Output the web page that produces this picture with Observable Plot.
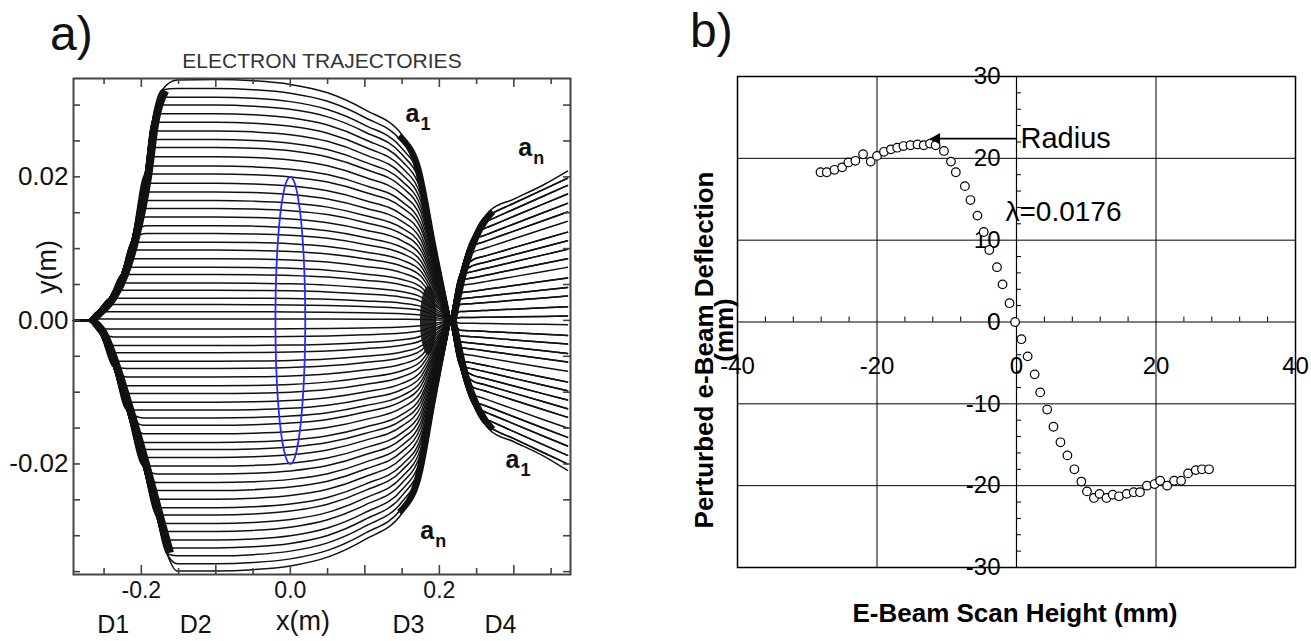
<!DOCTYPE html>
<html><head><meta charset="utf-8">
<script src="https://cdn.jsdelivr.net/npm/d3@7"></script>
<script src="https://cdn.jsdelivr.net/npm/@observablehq/plot@0.6"></script>
<style>
html,body{margin:0;padding:0;background:#fff;}
#wrap{position:relative;width:1311px;height:641px;overflow:hidden;background:#fff;font-family:"Liberation Sans",Arial,sans-serif;}
#wrap svg{position:absolute;top:0;}
</style></head><body><div id="wrap"></div>
<script>
// ================= Panel a: electron trajectories =================
// plateau height (m) of each trajectory a1..an, read at x ≈ -0.1 m
const plateauY = [0.03355,0.0323,0.0311,0.0300,0.0288,0.0276,0.0264,0.0252,0.0241,0.0228,0.0215,0.0204,0.0191,0.0179,0.0167,0.0156,0.0144,0.0132,0.0121,0.0109,0.0098,0.0086,0.0074,0.0064,0.0052,0.0042,0.0031,0.0022,0.0012,0.0002,
  -0.0012,-0.0023,-0.0035,-0.0045,-0.0057,-0.0067,-0.0079,-0.0091,-0.0102,-0.0114,-0.0125,-0.0136,-0.0146,-0.0158,-0.0170,-0.0180,-0.0191,-0.0203,-0.0214,-0.0226,-0.0237,-0.0249,-0.0261,-0.0271,-0.0283,-0.0294,-0.0306,-0.0317,-0.0328,-0.0339,-0.0349];
// end height (m) of each trajectory at the right edge (x ≈ 0.372 m)
const endY = [-0.0210,-0.0200,-0.0200,-0.0188,-0.0188,-0.0175,-0.0175,-0.0163,-0.0163,-0.0150,-0.0135,-0.0135,-0.0123,-0.0123,-0.0111,-0.0111,-0.0098,-0.0098,-0.0086,-0.0086,-0.0071,-0.0058,-0.0058,-0.0046,-0.0046,-0.0033,-0.0033,-0.0021,-0.0021,-0.0006,
  0.0006,0.0006,0.0019,0.0019,0.0034,0.0034,0.0046,0.0046,0.0059,0.0059,0.0074,0.0086,0.0086,0.0099,0.0099,0.0111,0.0111,0.0123,0.0123,0.0138,0.0151,0.0151,0.0163,0.0163,0.0176,0.0176,0.0188,0.0188,0.0198,0.0198,0.0208];
// outer edge of the deflection band in D1 (upper and lower half)
const envTopX = [-0.291,-0.272,-0.2595,-0.2416,-0.226,-0.2125,-0.1946,-0.1857,-0.172,-0.152];
const envTopY = [0,0,0.00116,0.00325,0.0065,0.0111,0.0204,0.0274,0.0321,0.0335];
const envBotX = [-0.291,-0.272,-0.255,-0.237,-0.219,-0.197,-0.179,-0.1655,-0.152];
const envBotY = [0,0,0.0018,0.0065,0.0125,0.0204,0.0274,0.0325,0.0351];
// drift + convergence profile (fraction of plateau height)
const midX = [-0.1,-0.05,0.0,0.05,0.1,0.15,0.175,0.195];
const midRatio = [1,0.995,0.98,0.945,0.875,0.77,0.63,0.31];
// after the crossover: outer band edge and straight-fan profile (fraction of end height)
const rightX = [0.215,0.228,0.2456,0.259,0.268,0.30,0.34,0.372];
const rightEnv = [0,0.0063,0.0117,0.0142,0.0153,0.0169,0.0189,0.0209];
const rightRatio = [0.615,0.647,0.69,0.723,0.745,0.824,0.922,1.0];
// dense caustic region before the crossover (centre x, half-width, half-height in m)
const caustic = {cx: 0.185, rx: 0.011, ry: 0.0048};
const circleRadius = 0.02;
const xMajorA = [-0.2,-0.1,0,0.1,0.2,0.3];
const xMinorA = [-0.25,-0.15,-0.05,0.05,0.15,0.25,0.35];
const xLabelA = [-0.2,0.0,0.2];
const yTickA = [-0.035,-0.03,-0.025,-0.02,-0.015,-0.01,-0.005,0,0.005,0.01,0.015,0.02,0.025,0.03];
const yLabelA = [-0.02,0.0,0.02];
const regionNames = ["D1","D2","D3","D4"];
const regionX = [-0.2376,-0.127,0.1584,0.282];
const trajLabels = [
  {x:0.1544, y:0.0276, sub:"1"},
  {x:0.1745, y:-0.0304, sub:"n"},
  {x:0.306, y:0.0229, sub:"n"},
  {x:0.2886, y:-0.0205, sub:"1"}
];

// ================= Panel b: deflection vs scan height =================
const scanX = [-28.1,-27.2,-26.1,-25.0,-24.1,-23.1,-22.0,-20.9,-20.0,-19.0,-18.0,-17.1,-16.2,-15.2,-14.2,-13.3,-12.4,-11.6,-10.4,-9.4,-8.7,-7.4,-6.6,-5.6,-4.7,-3.9,-2.8,-2.0,-1.0,-0.2,
  0.7,1.6,2.6,3.4,4.4,5.3,6.3,7.3,8.3,9.3,10.1,11.1,11.9,12.9,13.8,14.7,15.8,16.8,17.7,18.7,19.8,20.6,21.6,22.6,23.6,24.6,25.7,26.6,27.6];
const deflY = [18.3,18.3,18.6,18.9,19.5,19.7,20.5,19.6,20.3,20.8,21.1,21.3,21.5,21.6,21.7,21.6,21.8,21.6,20.9,19.6,18.3,16.6,14.9,13.0,11.0,8.8,6.7,4.6,2.3,0.0,
  -2.1,-4.2,-6.4,-8.6,-10.7,-12.8,-14.7,-16.3,-18.0,-19.5,-20.7,-21.5,-21.0,-21.5,-21.1,-21.3,-21.0,-20.8,-20.8,-20.0,-19.8,-19.4,-20.0,-19.4,-19.4,-18.5,-18.1,-18.0,-18.0];
const xGridB = [-20,20];
const yGridB = [-20,-10,10,20];
const xLabelB = [-40,-20,0,20,40];
const yLabelB = [-30,-20,-10,0,10,20,30];
const xMinorB = [-36,-32,-28,-24,-16,-12,-8,-4,4,8,12,16,24,28,32,36];
const yMinorB = [-28,-26,-24,-22,-18,-16,-14,-12,-8,-6,-4,-2,2,4,6,8,12,14,16,18,22,24,26,28];
const radiusArrow = {x1:0, x2:-12.3, y:22.4};
const lambdaNote = {x:0, y:13.4, text:"λ=0.0176"};

const FONT = "Liberation Sans, Arial, sans-serif";
const hy = s => s.replace("\u2212", "-");
const wrap = document.getElementById("wrap");

// ---------- build panel a ----------
const rows = [];
plateauY.forEach((h, i) => {
  const s = h >= 0 ? 1 : -1, a = Math.abs(h);
  const ex = h >= 0 ? envTopX : envBotX, ey = h >= 0 ? envTopY : envBotY;
  ex.forEach((x, k) => rows.push({id: i, x, y: s * Math.min(ey[k], a)}));
  midX.forEach((x, k) => rows.push({id: i, x, y: h * midRatio[k]}));
  const e = endY[i], se = e >= 0 ? 1 : -1, ae = Math.abs(e);
  rightX.forEach((x, k) => rows.push({id: i, x, y: se * Math.min(rightEnv[k], ae * rightRatio[k])}));
});
// dense bands along the outer edges (where the trajectories crowd together)
const hTop = plateauY[0], hBot = plateauY[plateauY.length - 1];
const bandD1Top = envTopX.slice(1, 9).map((x, k) => ({x, y: envTopY[k + 1]}));
const bandD1Bot = envBotX.slice(1, 8).map((x, k) => ({x, y: -envBotY[k + 1]}));
const bandD3Top = midX.slice(5).map((x, k) => ({x, y: hTop * midRatio[k + 5]})).concat([{x: rightX[0], y: 0}]);
const bandD3Bot = midX.slice(5).map((x, k) => ({x, y: hBot * midRatio[k + 5]})).concat([{x: rightX[0], y: 0}]);
const bandD4Top = rightX.slice(0, 5).map((x, k) => ({x, y: rightEnv[k]}));
const bandD4Bot = rightX.slice(0, 5).map((x, k) => ({x, y: -rightEnv[k]}));
const ellipse = d3.range(0, 361, 6).map(t => ({x: caustic.cx + caustic.rx * Math.cos(t * Math.PI / 180), y: caustic.ry * Math.sin(t * Math.PI / 180)}));
const circle = d3.range(0, 361, 3).map(t => ({x: circleRadius * Math.cos(t * Math.PI / 180), y: circleRadius * Math.sin(t * Math.PI / 180)}));

const WA = 600, HA = 641, mlA = 73, mrA = 30, mtA = 78, mbA = 67;
const iwA = WA - mlA - mrA, ihA = HA - mtA - mbA;
const axA = "#444", ink = "#111";
const band = (data, w, dx, dy) => Plot.line(data, {x: "x", y: "y", stroke: ink, strokeWidth: w, dx, dy, curve: "monotone-x", strokeLinecap: "butt"});
const plotA = Plot.plot({
  width: WA, height: HA, marginLeft: mlA, marginRight: mrA, marginTop: mtA, marginBottom: mbA,
  style: {background: "transparent", overflow: "visible"},
  x: {domain: [-0.291, 0.376], axis: null},
  y: {domain: [-0.0354, 0.0337], axis: null},
  marks: [
    Plot.line(rows, {x: "x", y: "y", z: "id", stroke: ink, strokeWidth: 1.5, curve: "monotone-x"}),
    band(bandD1Top, 7, 3.5, 1),
    band(bandD1Bot, 7, 3.5, -1),
    band(bandD3Top, 6, -3, 1),
    band(bandD3Bot, 6, -3, -1),
    band(bandD4Top, 6, 3, 1),
    band(bandD4Bot, 6, 3, -1),
    Plot.line(ellipse, {x: "x", y: "y", fill: ink, fillOpacity: 0.9, stroke: "none"}),
    Plot.line(circle, {x: "x", y: "y", stroke: "#2a2aff", strokeWidth: 1.8}),
    Plot.frame({stroke: axA, strokeWidth: 2}),
    Plot.ruleX(xMajorA, {x: d => d, insetTop: ihA - 9, stroke: axA, strokeWidth: 1.6}),
    Plot.ruleX(xMajorA, {x: d => d, insetBottom: ihA - 9, stroke: axA, strokeWidth: 1.6}),
    Plot.ruleX(xMinorA, {x: d => d, insetTop: ihA - 6, stroke: axA, strokeWidth: 1.6}),
    Plot.ruleX(xMinorA, {x: d => d, insetBottom: ihA - 6, stroke: axA, strokeWidth: 1.6}),
    Plot.ruleY(yTickA, {y: d => d, insetRight: iwA - 7, stroke: axA, strokeWidth: 1.6}),
    Plot.ruleY(yTickA, {y: d => d, insetLeft: iwA - 7, stroke: axA, strokeWidth: 1.6}),
    Plot.text(xLabelA, {x: d => d, frameAnchor: "bottom", lineAnchor: "bottom", dy: 23, text: d => hy(d3.format(".1f")(d)), fontSize: 23, fontFamily: FONT, fill: ink}),
    Plot.text(yLabelA, {y: d => d, frameAnchor: "left", textAnchor: "end", lineAnchor: "middle", dx: -5, text: d => hy(d3.format(".2f")(d)), fontSize: 26, fontFamily: FONT, fill: ink}),
    Plot.text(regionNames, {x: (d, i) => regionX[i], frameAnchor: "bottom", lineAnchor: "bottom", dy: 58, text: d => d, fontSize: 25, fontFamily: FONT, fill: ink}),
    Plot.text(trajLabels, {x: "x", y: "y", text: () => "a", textAnchor: "start", lineAnchor: "bottom", fontSize: 25, fontWeight: "bold", fontFamily: FONT, fill: ink}),
    Plot.text(trajLabels, {x: "x", y: "y", text: "sub", textAnchor: "start", lineAnchor: "bottom", dx: 15, dy: 8, fontSize: 18, fontWeight: "bold", fontFamily: FONT, fill: ink})
  ]
});
plotA.style.left = "0px";
wrap.appendChild(plotA);

// ---------- build panel b ----------
const pts = scanX.map((x, i) => ({x, y: deflY[i]}));
const WB = 671, HB = 641, mlB = 97, mrB = 16, mtB = 76, mbB = 74;
const iwB = WB - mlB - mrB, ihB = HB - mtB - mbB;
const tickLx = 5 * 80 / iwB, tickLy = 5 * 60 / ihB;
const plotB = Plot.plot({
  width: WB, height: HB, marginLeft: mlB, marginRight: mrB, marginTop: mtB, marginBottom: mbB,
  style: {background: "transparent", overflow: "visible"},
  x: {domain: [-40, 40], axis: null},
  y: {domain: [-30, 30], axis: null},
  marks: [
    Plot.ruleX(xGridB, {x: d => d, stroke: "#000", strokeWidth: 1}),
    Plot.ruleY(yGridB, {y: d => d, stroke: "#000", strokeWidth: 1}),
    Plot.ruleX([0], {x: d => d, stroke: "#000", strokeWidth: 1.2}),
    Plot.ruleY([0], {y: d => d, stroke: "#000", strokeWidth: 1.2}),
    Plot.ruleY(yMinorB, {y: d => d, x1: 0, x2: tickLx, stroke: "#000", strokeWidth: 1}),
    Plot.ruleX(xMinorB, {x: d => d, y1: 0, y2: tickLy, stroke: "#000", strokeWidth: 1}),
    Plot.frame({stroke: "#000", strokeWidth: 1.5}),
    Plot.text(yLabelB, {x: 0, y: d => d, text: d => String(d), textAnchor: "end", lineAnchor: "middle", dx: -16, fontSize: 24, fontFamily: FONT, fill: "#000"}),
    Plot.text(xLabelB, {x: d => d, y: 0, text: d => String(d), lineAnchor: "middle", dy: 44, fontSize: 24, fontFamily: FONT, fill: "#000"}),
    Plot.dot(pts, {x: "x", y: "y", r: 4.3, stroke: "#000", fill: "#fff", strokeWidth: 1.2}),
    Plot.link([radiusArrow], {x1: "x1", x2: "x2", y1: "y", y2: "y", stroke: "#000", strokeWidth: 1.8}),
    Plot.dot([radiusArrow], {x: "x2", y: "y", symbol: "triangle", r: 4.3, fill: "#000", stroke: "none", rotate: -90, dx: 6}),
    Plot.text([radiusArrow], {x: "x1", y: "y", text: () => "Radius", textAnchor: "start", lineAnchor: "middle", dx: 4, fontSize: 29, fontFamily: FONT, fill: "#000"}),
    Plot.text([lambdaNote], {x: "x", y: "y", text: "text", textAnchor: "start", lineAnchor: "middle", dx: -11, fontSize: 28, fontFamily: FONT, fill: "#000"})
  ]
});
plotB.style.left = "640px";
wrap.appendChild(plotB);

// ---------- titles / panel letters ----------
const ov = d3.select(wrap).append("svg").attr("width", 1311).attr("height", 641)
  .style("left", "0px").style("pointer-events", "none").style("font-family", FONT);
ov.append("text").attr("x", 50).attr("y", 50).attr("font-size", 48).attr("fill", ink).text("a)");
ov.append("text").attr("x", 690).attr("y", 47).attr("font-size", 48).attr("fill", ink).text("b)");
ov.append("text").attr("x", 322).attr("y", 68).attr("font-size", 21).attr("text-anchor", "middle").attr("fill", "#333").text("ELECTRON TRAJECTORIES");
ov.append("text").attr("transform", "translate(56,267) rotate(-90)").attr("font-size", 27).attr("text-anchor", "middle").attr("fill", ink).text("y(m)");
ov.append("text").attr("x", 303).attr("y", 630).attr("font-size", 27).attr("text-anchor", "middle").attr("fill", ink).text("x(m)");
ov.append("text").attr("x", 1015).attr("y", 622).attr("font-size", 26).attr("font-weight", "bold").attr("text-anchor", "middle").attr("fill", "#000").text("E-Beam Scan Height (mm)");
ov.append("text").attr("transform", "translate(713,350) rotate(-90)").attr("font-size", 26).attr("font-weight", "bold").attr("text-anchor", "middle").attr("fill", "#000").text("Perturbed e-Beam Deflection");
ov.append("text").attr("transform", "translate(733,330) rotate(-90)").attr("font-size", 26).attr("font-weight", "bold").attr("text-anchor", "middle").attr("fill", "#000").text("(mm)");
</script></body></html>
